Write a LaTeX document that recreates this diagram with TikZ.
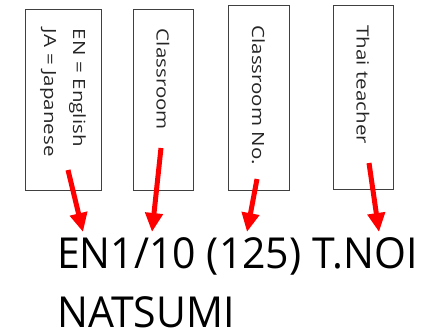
\documentclass[tikz,border=0pt]{standalone}
\usepackage{fontspec}
\setmainfont{Open Sans}
\newfontfamily\boxfont[FakeStretch=1.22]{Open Sans}
\newfontfamily\bigfont[FakeStretch=0.96]{Open Sans}
\usetikzlibrary{arrows.meta}
\definecolor{boxgray}{HTML}{404040}
\definecolor{textgray}{HTML}{262626}

\tikzset{
	label box/.style = {draw=boxgray, line width=0.9pt, rotate=-90, align=left, inner xsep=20pt,
		text=textgray, font=\boxfont\fontsize{16.8}{29}\selectfont},
	big text/.style = {anchor=base west, inner sep=0pt, text depth=0pt, text=black, font=\bigfont\fontsize{42.7}{50}\selectfont},
	red arrow/.style = {draw=red, line width=5pt, -{Triangle[length=19pt,width=17pt]}}
}

\begin{document}
\begin{tikzpicture}[x=1pt,y=-1pt]
	\useasboundingbox (0,0) rectangle (430,334);
		\node[label box, text width=141pt, minimum height=76pt] (lang) at (63,99.5) {EN = English\\JA = Japanese};
		\node[label box, text width=141pt, minimum height=60pt] (room) at (163,99.5) {Classroom};
		\node[label box, text width=144.5pt, minimum height=61pt] (roomno) at (258.5,97.75) {Classroom No.};
		\node[label box, text width=144pt, minimum height=60pt] (teacher) at (363,97.5) {Thai teacher};
		\node[big text] (code) at (57,268) {EN1/10 (125) T.NOI};
		\node[big text] (name) at (57,327) {NATSUMI};
	%	arrow ends
		\coordinate (lang s) at (68,170);
		\coordinate (lang t) at (83,232);
		\coordinate (room s) at (161,148);
		\coordinate (room t) at (152,232);
		\coordinate (roomno s) at (257,179);
		\coordinate (roomno t) at (247,232);
		\coordinate (teacher s) at (369,163);
		\coordinate (teacher t) at (379,232);
		\draw[red arrow] (lang s) -- (lang t);
		\draw[red arrow] (room s) -- (room t);
		\draw[red arrow] (roomno s) -- (roomno t);
		\draw[red arrow] (teacher s) -- (teacher t);
\end{tikzpicture}
\end{document}
